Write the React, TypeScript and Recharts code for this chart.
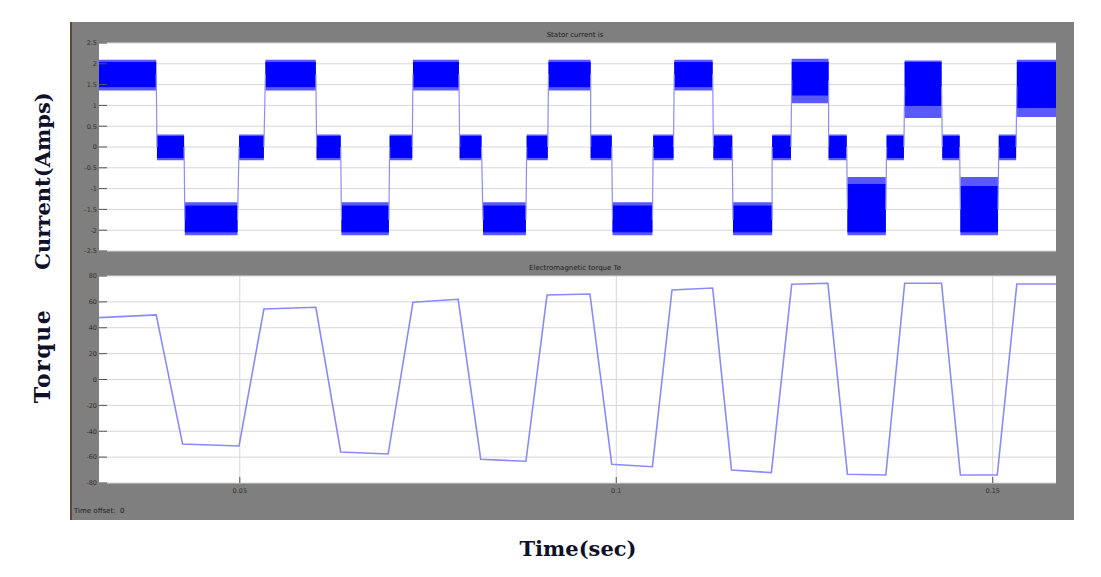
import React from 'react';
import { ComposedChart, LineChart, Line, Area, XAxis, YAxis, CartesianGrid } from 'recharts';

// ---- Stator current: plateau segments (time in s, current in A) ----
const segStart = [0.0313, 0.0390, 0.0427, 0.0499, 0.0534, 0.0602, 0.0635, 0.0699, 0.0730, 0.0792,
  0.0823, 0.0881, 0.0910, 0.0966, 0.0995, 0.1049, 0.1077, 0.1129, 0.1155, 0.1207,
  0.1233, 0.1282, 0.1307, 0.1359, 0.1383, 0.1433, 0.1457, 0.1508, 0.1532];
const segEnd = [0.0389, 0.0426, 0.0497, 0.0532, 0.0601, 0.0634, 0.0698, 0.0729, 0.0791, 0.0821,
  0.0880, 0.0909, 0.0966, 0.0994, 0.1048, 0.1076, 0.1128, 0.1154, 0.1207, 0.1232,
  0.1282, 0.1306, 0.1358, 0.1382, 0.1432, 0.1456, 0.1507, 0.1531, 0.1584];
const segLevel = [1.75, 0, -1.75, 0, 1.75, 0, -1.75, 0, 1.75, 0,
  -1.75, 0, 1.75, 0, -1.75, 0, 1.75, 0, -1.75, 0,
  1.6, 0, -1.5, 0, 1.45, 0, -1.5, 0, 1.45];
const bandLow = [1.45, -0.25, -2.04, -0.25, 1.45, -0.25, -2.04, -0.25, 1.45, -0.25,
  -2.04, -0.25, 1.45, -0.25, -2.04, -0.25, 1.45, -0.25, -2.04, -0.25,
  1.25, -0.25, -2.04, -0.25, 1.0, -0.25, -2.04, -0.25, 0.95];
const bandHigh = [2.03, 0.25, -1.42, 0.25, 2.03, 0.25, -1.42, 0.25, 2.03, 0.25,
  -1.42, 0.25, 2.03, 0.25, -1.42, 0.25, 2.03, 0.25, -1.42, 0.25,
  2.03, 0.25, -0.9, 0.25, 2.03, 0.25, -0.95, 0.25, 2.03];
const spikeLow = [1.36, -0.32, -2.12, -0.32, 1.36, -0.32, -2.12, -0.32, 1.36, -0.32,
  -2.12, -0.32, 1.36, -0.32, -2.12, -0.32, 1.36, -0.32, -2.12, -0.32,
  1.05, -0.32, -2.12, -0.32, 0.7, -0.32, -2.12, -0.32, 0.72];
const spikeHigh = [2.1, 0.3, -1.33, 0.3, 2.1, 0.3, -1.33, 0.3, 2.1, 0.3,
  -1.33, 0.3, 2.1, 0.3, -1.33, 0.3, 2.1, 0.3, -1.33, 0.3,
  2.12, 0.3, -0.72, 0.3, 2.08, 0.3, -0.72, 0.3, 2.1];

// ---- Electromagnetic torque ----
const torqueTime = [0.0313, 0.0389, 0.0424, 0.0499, 0.0532, 0.0601, 0.0634, 0.0697, 0.0730, 0.0790,
  0.0820, 0.0880, 0.0908, 0.0965, 0.0994, 0.1048, 0.1074, 0.1128, 0.1153, 0.1206,
  0.1233, 0.1281, 0.1307, 0.1358, 0.1383, 0.1432, 0.1457, 0.1506, 0.1532, 0.1584];
const torqueValue = [47.8, 49.9, -49.9, -51.4, 54.5, 55.8, -56.0, -57.6, 59.7, 62.0,
  -61.7, -63.2, 65.3, 66.1, -65.5, -67.4, 69.2, 70.7, -69.9, -72.0,
  73.6, 74.4, -73.3, -73.8, 74.4, 74.4, -73.8, -73.8, 73.8, 73.8];

const currentTicks = [2.5, 2, 1.5, 1, 0.5, 0, -0.5, -1, -1.5, -2, -2.5];
const torqueTicks = [80, 60, 40, 20, 0, -20, -40, -60, -80];
const timeTicks = [0.05, 0.1, 0.15];
const timeTickLabels = ['0.05', '0.1', '0.15'];
const timeDomain: [number, number] = [0.0313, 0.1584];

// band table: two points per plateau, a null row between plateaus breaks the area
const currentData: any[] = [];
segStart.forEach((s, i) => {
  const pt = (t: number) => ({
    t,
    band: [bandLow[i], bandHigh[i]],
    spike: [spikeLow[i], spikeHigh[i]],
  });
  currentData.push(pt(s));
  currentData.push(pt(segEnd[i]));
  if (i < segStart.length - 1) {
    currentData.push({ t: (segEnd[i] + segStart[i + 1]) / 2, band: null, spike: null });
  }
});

// switching edges: from the end of one plateau to the start of the next
const transitionData: any[] = [];
segStart.forEach((s, i) => {
  if (i === 0) return;
  transitionData.push({ t: segEnd[i - 1], level: segLevel[i - 1] });
  transitionData.push({ t: s, level: segLevel[i] });
  transitionData.push({ t: s, level: null });
});

const torqueData = torqueTime.map((t, i) => ({ t, v: torqueValue[i] }));

const tickStyle = { fontSize: 6.5, fill: '#333333', fontFamily: 'DejaVu Sans' };
const gridStroke = '#d6d6d6';
const tickStroke = '#555';

const labelFont: React.CSSProperties = {
  position: 'absolute',
  fontFamily: '"DejaVu Serif", serif',
  fontWeight: 'bold',
  fontSize: 21,
  color: '#10102a',
  whiteSpace: 'nowrap',
};
const smallText: React.CSSProperties = {
  position: 'absolute',
  fontFamily: '"DejaVu Sans", sans-serif',
  fontSize: 7,
  color: '#202020',
  whiteSpace: 'nowrap',
};

export default function App() {
  return (
    <div style={{ position: 'absolute', left: 0, top: 0, width: 1101, height: 577, background: '#fff', overflow: 'hidden' }}>
      <div style={{ position: 'absolute', left: 70, top: 22, width: 1004, height: 498, background: '#7f7f7f', borderLeft: '2px solid #5a4a38', boxSizing: 'border-box' }} />

      <div style={{ ...smallText, left: 0, width: 1150, top: 31, textAlign: 'center' }}>Stator current is</div>
      <div style={{ ...smallText, left: 0, width: 1150, top: 264, textAlign: 'center' }}>Electromagnetic torque Te</div>
      <div style={{ ...smallText, left: 74, top: 507 }}>Time offset:&nbsp;&nbsp;0</div>

      <div style={{ position: 'absolute', left: 0, top: 0 }}>
        <ComposedChart width={1101} height={277} data={currentData} margin={{ top: 42, right: 44, bottom: 25, left: 98 }}>
          <CartesianGrid fill="#ffffff" stroke={gridStroke} strokeWidth={1} horizontalValues={currentTicks} verticalValues={timeTicks} />
          <XAxis xAxisId={0} dataKey="t" type="number" domain={timeDomain} allowDataOverflow ticks={timeTicks}
            height={1} axisLine={false} tick={false} tickSize={-6} tickLine={{ stroke: tickStroke }} />
          <XAxis xAxisId="top" orientation="top" dataKey="t" type="number" domain={timeDomain} allowDataOverflow ticks={timeTicks}
            height={1} axisLine={false} tick={false} tickSize={-6} tickLine={{ stroke: tickStroke }} />
          <YAxis yAxisId={0} type="number" domain={[-2.5, 2.5]} ticks={currentTicks} allowDataOverflow width={1}
            axisLine={false} tickSize={-8} tickMargin={10} tick={tickStyle} tickLine={{ stroke: tickStroke }} interval={0} />
          <YAxis yAxisId="right" orientation="right" type="number" domain={[-2.5, 2.5]} ticks={currentTicks} width={1}
            axisLine={false} tickSize={-6} tick={false} tickLine={{ stroke: tickStroke }} interval={0} />
          <Line data={transitionData} dataKey="level" stroke="#8c8cff" strokeWidth={1.2} dot={false} activeDot={false} connectNulls={false} isAnimationActive={false} />
          <Area dataKey="spike" stroke="none" fill="#0000ff" fillOpacity={0.65} isAnimationActive={false} connectNulls={false} dot={false} activeDot={false} />
          <Area dataKey="band" stroke="#0000ff" strokeWidth={1} fill="#0000ff" fillOpacity={1} isAnimationActive={false} connectNulls={false} dot={false} activeDot={false} />
        </ComposedChart>
      </div>

      <div style={{ position: 'absolute', left: 0, top: 250 }}>
        <LineChart width={1101} height={260} data={torqueData} margin={{ top: 25, right: 44, bottom: 26, left: 98 }}>
          <CartesianGrid fill="#ffffff" stroke={gridStroke} strokeWidth={1} horizontalValues={torqueTicks} verticalValues={timeTicks} />
          <XAxis xAxisId={0} dataKey="t" type="number" domain={timeDomain} allowDataOverflow ticks={timeTicks}
            height={1} axisLine={false} tickSize={-6} tickMargin={11} tick={tickStyle} tickLine={{ stroke: tickStroke }}
            tickFormatter={(v: number) => timeTickLabels[timeTicks.indexOf(v)] ?? String(v)} interval={0} />
          <XAxis xAxisId="top" orientation="top" dataKey="t" type="number" domain={timeDomain} allowDataOverflow ticks={timeTicks}
            height={1} axisLine={false} tick={false} tickSize={-6} tickLine={{ stroke: tickStroke }} />
          <YAxis yAxisId={0} type="number" domain={[-80, 80]} ticks={torqueTicks} allowDataOverflow width={1}
            axisLine={false} tickSize={-8} tickMargin={10} tick={tickStyle} tickLine={{ stroke: tickStroke }} interval={0} />
          <YAxis yAxisId="right" orientation="right" type="number" domain={[-80, 80]} ticks={torqueTicks} width={1}
            axisLine={false} tickSize={-6} tick={false} tickLine={{ stroke: tickStroke }} interval={0} />
          <Line dataKey="v" stroke="#8a8aff" strokeWidth={1.6} dot={false} activeDot={false} isAnimationActive={false} />
        </LineChart>
      </div>

      <div style={{ ...labelFont, left: 42, top: 181, transform: 'translate(-50%, -50%) rotate(-90deg)' }}>Current(Amps)</div>
      <div style={{ ...labelFont, left: 42, top: 356, fontSize: 22, letterSpacing: 1.5, transform: 'translate(-50%, -50%) rotate(-90deg)' }}>Torque</div>
      <div style={{ ...labelFont, left: 578, top: 548, transform: 'translate(-50%, -50%)' }}>Time(sec)</div>
    </div>
  );
}
